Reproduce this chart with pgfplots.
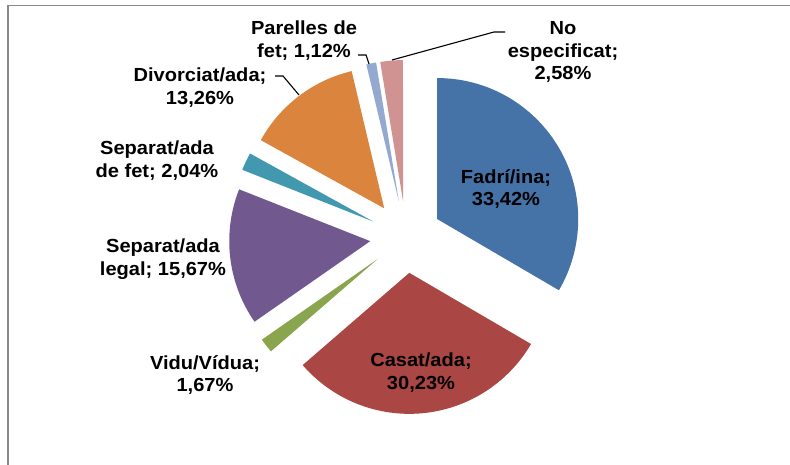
\documentclass[border=0pt]{standalone}
\usepackage{pgfplots}
\usepackage{pgfplotstable}
\pgfplotsset{compat=1.18}
\usepackage{fontspec}
\setmainfont{Liberation Sans}
\newfontfamily\lblfont[FakeStretch=1.06]{Liberation Sans}

\definecolor{c0}{HTML}{4572A7}
\definecolor{c1}{HTML}{AA4643}
\definecolor{c2}{HTML}{89A54E}
\definecolor{c3}{HTML}{71588F}
\definecolor{c4}{HTML}{4198AF}
\definecolor{c5}{HTML}{DB843D}
\definecolor{c6}{HTML}{93A9CF}
\definecolor{c7}{HTML}{D19392}
\definecolor{framegray}{HTML}{888888}

% estat civil, percentatges
\pgfplotstableread{
value
33.42
30.23
1.67
15.67
2.04
13.26
1.12
2.58
}\piedata

% pie centre, radius and explosion (in bp)
\def\cx{406}
\def\cy{228}
\def\rad{141}
\def\expl{36}

% start/end angles of each slice, clockwise from 12 o'clock
\xdef\cumul{0}
\foreach \i in {0,...,7}{
  \pgfplotstablegetelem{\i}{value}\of\piedata
  \pgfmathsetmacro{\a}{90-3.6*\cumul}
  \pgfmathsetmacro{\b}{90-3.6*(\cumul+\pgfplotsretval)}
  \pgfmathsetmacro{\px}{\cx+\expl*cos((\a+\b)/2)}
  \pgfmathsetmacro{\py}{\cy+\expl*sin((\a+\b)/2)}
  \expandafter\xdef\csname sa\i\endcsname{\a}
  \expandafter\xdef\csname sb\i\endcsname{\b}
  \expandafter\xdef\csname px\i\endcsname{\px}
  \expandafter\xdef\csname py\i\endcsname{\py}
  \pgfmathsetmacro{\c}{\cumul+\pgfplotsretval}
  \xdef\cumul{\c}
}

\tikzset{lbl/.style={font=\lblfont\fontsize{19}{23}\selectfont\bfseries, align=center, inner sep=0pt}}

\begin{document}
\begin{tikzpicture}
\begin{axis}[
    x=1bp, y=1bp, disabledatascaling,
    xmin=0, xmax=790, ymin=0, ymax=465,
    hide axis,
]
\path[fill=white] (axis cs:0,0) rectangle (axis cs:790,465);
\draw[framegray, line width=1.3bp] (axis cs:8,0) -- (axis cs:8,459.5) -- (axis cs:790,459.5);

\pgfplotsinvokeforeach{0,...,7}{
  \fill[c#1] (axis cs:\csname px#1\endcsname,\csname py#1\endcsname)
    -- ++(\csname sa#1\endcsname:\rad bp)
    arc[start angle=\csname sa#1\endcsname, end angle=\csname sb#1\endcsname, radius=\rad bp]
    -- cycle;
}

% leader lines
\draw[black, line width=1.1bp] (axis cs:358,410) -- (axis cs:366,410) -- (axis cs:369,401);
\draw[black, line width=1.1bp] (axis cs:505,433) -- (axis cs:494,433) -- (axis cs:392,405);
\draw[black, line width=1.1bp] (axis cs:275,389) -- (axis cs:283,389) -- (axis cs:299,370);

% data labels
\node[lbl] at (axis cs:506,276) {Fadrí/ina;\\33,42\%};
\node[lbl] at (axis cs:421,92) {Casat/ada;\\30,23\%};
\node[lbl] at (axis cs:205,90) {Vidu/Vídua;\\1,67\%};
\node[lbl] at (axis cs:163,206) {Separat/ada\\legal; 15,67\%};
\node[lbl] at (axis cs:157,304) {Separat/ada\\de fet; 2,04\%};
\node[lbl] at (axis cs:200,377) {Divorciat/ada;\\13,26\%};
\node[lbl] at (axis cs:304,424) {Parelles de\\fet; 1,12\%};
\node[lbl] at (axis cs:563,413) {No\\especificat;\\2,58\%};
\end{axis}
\end{tikzpicture}
\end{document}
